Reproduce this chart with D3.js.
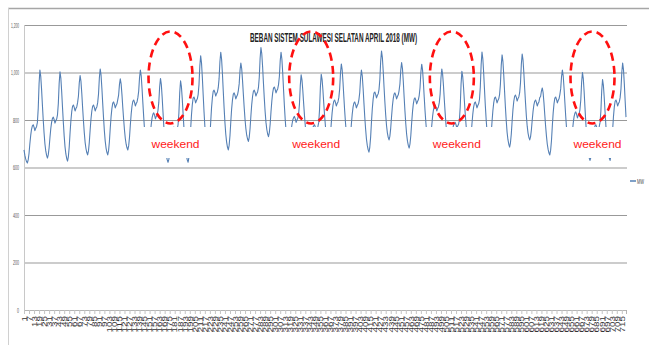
<!DOCTYPE html>
<html>
<head>
<meta charset="utf-8">
<script src="https://cdn.jsdelivr.net/npm/d3@7"></script>
<style>
  html, body { margin: 0; padding: 0; background: #fff; overflow: hidden; }
  svg { display: block; }
</style>
</head>
<body>
<svg id="chart" width="649" height="345"></svg>
<script>
// Hourly system load, South Sulawesi, April 2018 (MW), one row per day (hours 0..23)
const load = [
  674,652,636,625,619,632,659,700,735,761,775,780,770,755,765,772,790,849,953,1010,984,929,862,799,
  744,699,670,651,640,654,683,726,764,791,807,812,802,787,797,804,822,869,955,1003,977,920,853,789,
  732,687,657,638,627,646,686,745,797,835,858,863,853,838,848,855,873,900,956,987,964,914,853,797,
  747,706,680,663,653,670,706,758,804,838,858,863,853,838,848,855,873,909,977,1015,990,935,870,809,
  754,711,682,664,653,671,709,765,814,849,871,876,866,851,861,868,886,905,949,973,952,907,853,803,
  758,722,698,683,674,691,727,779,825,859,879,884,874,859,869,876,894,922,979,1010,986,933,870,811,
  758,716,688,671,660,674,703,745,782,810,825,830,820,805,815,822,840,874,939,975,950,897,834,774,
  721,678,650,633,622,634,659,696,729,752,765,770,760,745,755,762,780,829,916,965,941,890,828,769,
  718,677,649,632,622,644,691,760,820,864,892,897,887,872,882,889,907,949,1027,1070,1041,980,906,836,
  775,726,693,672,660,681,727,793,852,894,921,926,916,901,911,918,936,974,1045,1085,1056,995,921,851,
  789,740,707,686,674,693,734,794,847,885,909,914,904,889,899,906,924,952,1009,1040,1017,967,908,852,
  802,763,736,720,710,727,764,818,866,900,921,926,916,901,911,918,936,980,1060,1105,1079,1023,955,891,
  835,790,760,741,730,747,782,835,880,914,934,939,929,914,924,931,949,983,1049,1085,1057,998,927,860,
  801,753,722,702,690,700,721,753,780,800,810,815,805,790,800,807,825,868,946,990,969,924,870,819,
  774,738,714,699,690,697,713,735,755,769,775,780,770,755,765,772,790,844,939,992,971,926,871,820,
  775,738,714,699,690,706,739,787,830,861,879,884,874,859,869,876,894,930,998,1036,1012,960,898,839,
  787,745,718,700,690,705,737,783,824,854,871,876,866,851,861,868,886,916,977,1010,986,934,872,813,
  762,720,693,675,665,685,728,792,847,888,913,918,908,893,903,910,928,970,1047,1090,1064,1008,940,877,
  821,776,746,727,716,732,766,815,859,890,909,914,904,889,899,906,924,952,1010,1042,1017,963,898,837,
  783,740,711,693,682,699,735,788,834,868,888,893,883,868,878,885,903,936,1000,1035,1011,959,897,838,
  787,745,718,700,690,704,733,777,815,842,858,863,853,838,848,855,873,909,977,1015,992,944,885,830,
  781,742,716,700,690,698,715,740,762,778,785,790,780,765,775,782,800,855,951,1005,983,936,879,825,
  778,740,715,699,690,705,737,783,824,854,871,876,866,851,861,868,886,939,1034,1086,1058,999,928,860,
  801,753,722,702,690,707,742,794,839,872,892,897,887,872,882,889,907,950,1030,1074,1047,989,919,853,
  795,748,717,698,686,704,741,796,844,879,900,905,895,880,890,897,915,957,1035,1078,1053,998,933,872,
  817,774,745,727,716,729,758,800,837,864,879,884,874,859,869,876,894,899,922,935,915,873,822,774,
  732,698,676,661,653,673,714,775,829,868,892,897,887,872,882,889,907,931,982,1010,986,935,874,816,
  765,724,697,680,670,683,711,752,788,814,829,834,824,809,819,826,844,884,959,1000,974,919,852,789,
  734,689,660,641,630,642,668,705,738,762,775,780,770,755,765,772,790,837,923,970,946,895,834,776,
  725,684,657,640,630,650,694,757,813,854,879,884,874,859,869,876,894,931,1001,1040,1012,952,880,812
];

const yTicks = [0, 200, 400, 600, 800, 1000, 1200];
const labelEvery = 6;                       // one category label every 6 hours
const weekends = [[7, 8], [14, 15], [21, 22], [28, 29]];   // marked weekend day pairs
const weekendText = "weekend";
const titleText = "BEBAN SISTEM SULAWESI SELATAN APRIL 2018 (MW)";
const seriesName = "MW";

const svg = d3.select("#chart");

// outer chart frame
svg.append("line").attr("x1", 8).attr("x2", 649).attr("y1", 8.5).attr("y2", 8.5)
  .attr("stroke", "#a6a6a6").attr("stroke-width", 1.5);
svg.append("line").attr("x1", 8.5).attr("x2", 8.5).attr("y1", 8).attr("y2", 345)
  .attr("stroke", "#d0d0d0").attr("stroke-width", 1);

const idx = d3.range(load.length);
const x = d3.scalePoint().domain(idx).range([24, 626]);
const y = d3.scaleLinear().domain([0, 1200]).range([310, 25]);

// horizontal gridlines
const yAxis = d3.axisLeft(y).tickValues(yTicks).tickSize(-603).tickPadding(5);
const gy = svg.append("g").attr("transform", "translate(24,0)").call(yAxis);
gy.select(".domain").remove();
gy.selectAll(".tick line").attr("stroke", "#999").attr("stroke-width", 1);
gy.selectAll(".tick text")
  .attr("fill", "#555")
  .style("font-family", "'Liberation Sans Narrow', 'Liberation Sans', sans-serif")
  .style("font-size", "7px")
  .attr("textLength", d => String(d).length * 2)
  .attr("lengthAdjust", "spacingAndGlyphs");

// left value axis line
svg.append("line").attr("x1", 24.5).attr("x2", 24.5).attr("y1", 25).attr("y2", 310)
  .attr("stroke", "#c8c8c8");

// category axis with rotated hour labels
const xAxis = d3.axisBottom(x)
  .tickValues(idx.filter(i => i % labelEvery === 0))
  .tickSize(4)
  .tickFormat(i => String(i + 1));
const gx = svg.append("g").attr("transform", "translate(0,310)").call(xAxis);
gx.select(".domain").attr("stroke", "#b5b5b5");
gx.selectAll(".tick line").attr("stroke", "#c4c4c4");
gx.selectAll(".tick text")
  .attr("fill", "#333")
  .style("font-family", "'Liberation Sans', sans-serif")
  .style("font-size", "6.5px")
  .attr("text-anchor", "end")
  .attr("transform", "rotate(-90)")
  .attr("x", -6)
  .attr("y", 0)
  .attr("dy", "0.35em")
  .attr("textLength", function () { return this.textContent.length * 5.5; })
  .attr("lengthAdjust", "spacingAndGlyphs");

// load line
const line = d3.line().x((d, i) => x(i)).y(d => y(d));
svg.append("path").datum(load)
  .attr("d", line)
  .attr("fill", "none")
  .attr("stroke", "#5580b5")
  .attr("stroke-width", 1.1)
  .attr("stroke-linejoin", "round");

// title
svg.append("text")
  .attr("x", 250).attr("y", 42)
  .attr("textLength", 167).attr("lengthAdjust", "spacingAndGlyphs")
  .style("font-family", "'Liberation Sans Narrow', 'Liberation Sans', sans-serif")
  .style("font-size", "12px").style("font-weight", "bold")
  .attr("fill", "#222")
  .text(titleText);

// weekend annotations: white label boxes, dashed ellipses, red labels
const peakX = d => x((d - 1) * 24 + 19);
weekends.forEach(([a, b]) => {
  const cx = (peakX(a) + peakX(b)) / 2;
  const right = Math.min(cx + 44, 630);
  svg.append("rect")
    .attr("x", cx - 28).attr("y", 127)
    .attr("width", right - (cx - 28)).attr("height", 31)
    .attr("fill", "#fff");
  svg.append("ellipse")
    .attr("cx", cx).attr("cy", 77.5).attr("rx", 22).attr("ry", 46)
    .attr("fill", "none").attr("stroke", "#ff1010")
    .attr("stroke-width", 2.6).attr("stroke-dasharray", "8,5");
  svg.append("text")
    .attr("x", cx + 5).attr("y", 148)
    .attr("text-anchor", "middle")
    .attr("textLength", 48).attr("lengthAdjust", "spacingAndGlyphs")
    .style("font-family", "'Liberation Sans', sans-serif")
    .style("font-size", "11px")
    .attr("fill", "#ff1a1a")
    .text(weekendText);
});

// legend entry
svg.append("line").attr("x1", 630).attr("x2", 636).attr("y1", 181).attr("y2", 181)
  .attr("stroke", "#5580b5").attr("stroke-width", 1.5);
svg.append("text").attr("x", 637).attr("y", 183.5)
  .attr("textLength", 7).attr("lengthAdjust", "spacingAndGlyphs")
  .style("font-family", "'Liberation Sans Narrow', 'Liberation Sans', sans-serif")
  .style("font-size", "7px").attr("fill", "#444")
  .text(seriesName);
</script>
</body>
</html>
